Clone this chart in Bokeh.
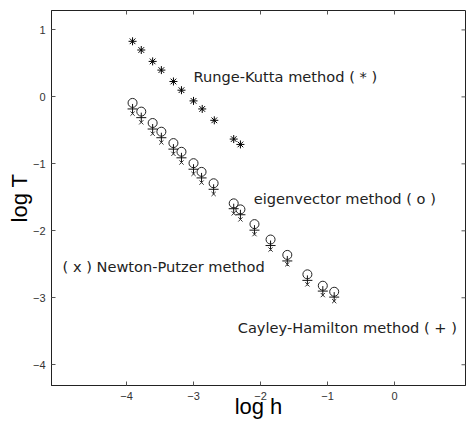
import math
from bokeh.plotting import figure
from bokeh.models import Range1d, FixedTicker
from bokeh.core.properties import value
from bokeh.embed import file_html
from bokeh.resources import INLINE

# Runge-Kutta method (*)
rk_x = [-3.91, -3.78, -3.61, -3.48, -3.30, -3.18, -3.00, -2.87, -2.69, -2.40, -2.30]
rk_y = [0.83, 0.70, 0.53, 0.40, 0.23, 0.10, -0.06, -0.18, -0.35, -0.63, -0.71]

# shared log h for the three lower methods
low_x = [-3.91, -3.78, -3.61, -3.48, -3.30, -3.18, -3.00, -2.88, -2.70, -2.40, -2.30,
         -2.09, -1.85, -1.60, -1.30, -1.07, -0.90]
# eigenvector method (o)
eig_y = [-0.09, -0.22, -0.39, -0.52, -0.69, -0.82, -0.99, -1.12, -1.29, -1.59, -1.68,
         -1.90, -2.13, -2.36, -2.65, -2.82, -2.91]
# Cayley-Hamilton method (+)
cay_y = [-0.18, -0.31, -0.48, -0.61, -0.78, -0.91, -1.08, -1.21, -1.38, -1.67, -1.76,
         -1.99, -2.22, -2.45, -2.74, -2.90, -2.99]
# Newton-Putzer method (x)
newt_y = [-0.25, -0.38, -0.55, -0.68, -0.85, -0.98, -1.15, -1.28, -1.45, -1.74, -1.83,
          -2.05, -2.28, -2.50, -2.80, -2.96, -3.05]

x_ticks = [-4, -3, -2, -1, 0]
y_ticks = [1, 0, -1, -2, -3, -4]

labels = ["Runge-Kutta method ( * )", "eigenvector method ( o )",
          "( x ) Newton-Putzer method", "Cayley-Hamilton method ( + )"]
label_x = [-3.00, -2.10, -4.955, -2.34]
label_y = [0.31, -1.51, -2.54, -3.45]

X_MIN, X_MAX = -5.12, 1.06
Y_MIN, Y_MAX = -4.31, 1.29

FONT = "Liberation Sans"
TXT_FONT = "DejaVu Sans"

p = figure(width=466, height=428, frame_width=414, frame_height=375,
           output_backend="svg", toolbar_location=None,
           x_range=Range1d(X_MIN, X_MAX), y_range=Range1d(Y_MIN, Y_MAX),
           min_border_left=51, min_border_right=1, min_border_top=10, min_border_bottom=43)
p.xgrid.visible = False
p.ygrid.visible = False
p.outline_line_color = "#222222"
p.outline_line_width = 1
p.background_fill_color = "white"
p.border_fill_color = "white"

for ax, ticks in ((p.xaxis[0], x_ticks), (p.yaxis[0], y_ticks)):
    ax.ticker = FixedTicker(ticks=ticks)
    ax.minor_tick_line_color = None
    ax.major_tick_in = 4
    ax.major_tick_out = 0
    ax.major_tick_line_color = "#555555"
    ax.axis_line_color = "#222222"
    ax.major_label_text_font = FONT
    ax.major_label_text_font_size = "11px"
    ax.major_label_text_color = "#333333"
    ax.major_label_standoff = 6
    ax.axis_label_text_font = FONT
    ax.axis_label_text_font_size = "22px"
    ax.axis_label_text_font_style = "normal"
    ax.axis_label_text_color = "black"

p.xaxis[0].axis_label = "log h"
p.yaxis[0].axis_label = "log T"
p.xaxis[0].axis_label_standoff = -9
p.yaxis[0].axis_label_standoff = -2

# mirrored inward ticks on the right and top edges (half of each dash is clipped by the frame)
p.scatter([X_MAX] * len(y_ticks), y_ticks, marker="dash", size=8,
          line_color="#555555", line_width=1)
p.scatter(x_ticks, [Y_MAX] * len(x_ticks), marker="dash", angle=math.pi / 2, size=8,
          line_color="#555555", line_width=1)

p.scatter(rk_x, rk_y, marker="asterisk", size=8, line_color="black", line_width=1)
p.scatter(low_x, eig_y, marker="circle", size=9, fill_color=None, line_color="#222222", line_width=1)
p.scatter(low_x, cay_y, marker="cross", size=10, line_color="#111111", line_width=1)
p.scatter(low_x, newt_y, marker="x", size=6, line_color="#333333", line_width=1)

p.text(label_x, label_y, text=labels, text_font=value(TXT_FONT), text_font_size="14.6px",
       text_color="#222222", text_baseline="middle", text_align="left")

open("out.html", "w").write(file_html(p, INLINE))
